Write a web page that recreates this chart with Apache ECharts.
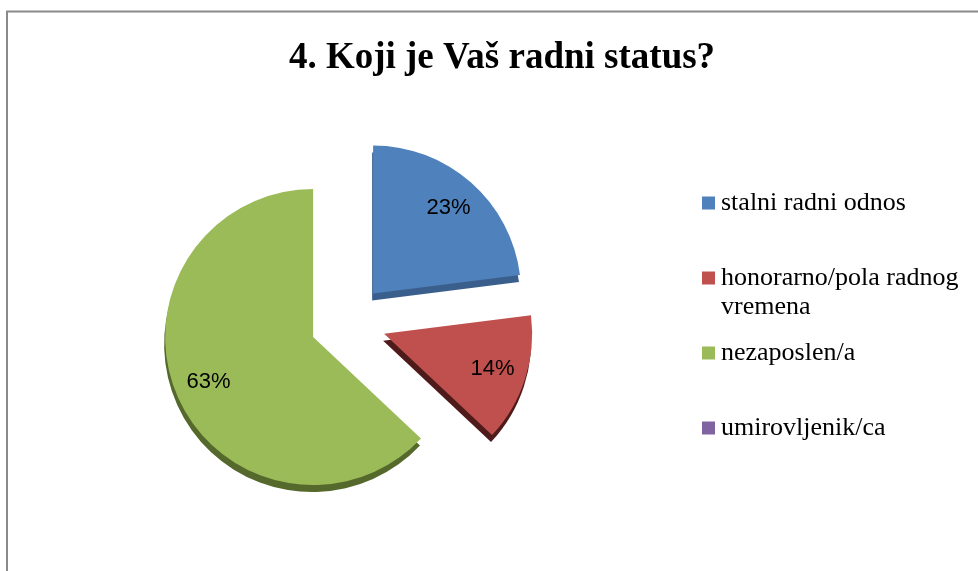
<!DOCTYPE html>
<html>
<head>
<meta charset="utf-8">
<script src="https://cdn.jsdelivr.net/npm/echarts@6/dist/echarts.min.js"></script>
<style>
  html, body { margin: 0; padding: 0; background: #fff; }
  #chart { width: 978px; height: 571px; }
</style>
</head>
<body>
<div id="chart"></div>
<script>
(function () {

    // podaci
    var categories = ['stalni radni odnos', 'honorarno/pola radnog vremena', 'nezaposlen/a', 'umirovljenik/ca'];
    var percents = [23, 14, 63, 0];
    var colors = ['#4F81BD', '#C0504D', '#9BBB59', '#8064A2'];
    var rimColors = ['#3A5F8C', '#4E1B1A', '#55692C', '#5C4776'];

    var serif = '"Liberation Serif", "DejaVu Serif", serif';

    function each(arr, fn) {
        for (var i = 0; i < arr.length; i++) fn(i, arr[i]);
    }

    var pieData = [], labelData = [], legendData = [];
    each(categories, function (i, name) {
        pieData.push({
            name: name,
            value: percents[i],
            selected: true,
            itemStyle: {
                color: colors[i],
                shadowColor: rimColors[i],
                shadowOffsetY: 7,
                shadowOffsetX: -1,
                shadowBlur: 0
            }
        });
        labelData.push({ name: name, value: percents[i], selected: true });
        legendData.push({ name: name, itemStyle: { color: colors[i] } });
    });

    var option = {
        animation: false,
        title: [{
            text: '4. Koji je Vaš radni status?',
            left: 497,
            top: 35,
            textAlign: 'center',
            textStyle: { fontFamily: serif, fontWeight: 'bold', fontSize: 37, color: '#000' }
        }, {
            // drugi red legende
            text: 'vremena',
            left: 721,
            top: 294,
            padding: 0,
            textStyle: { fontFamily: serif, fontWeight: 'normal', fontSize: 26, color: '#000' }
        }],
        legend: {
            orient: 'vertical',
            left: 702,
            top: 190,
            padding: 0,
            itemWidth: 13,
            itemHeight: 13,
            itemGap: 49,
            selectedMode: false,
            data: legendData,
            icon: 'rect',
            formatter: function (name) {
                return name === 'honorarno/pola radnog vremena' ? 'honorarno/pola radnog' : name;
            },
            textStyle: { fontFamily: serif, fontSize: 26, color: '#000', lineHeight: 26, padding: [0, 0, 0, 1] }
        },
        graphic: [{
            type: 'polyline',
            silent: true,
            shape: { points: [[7, 600], [7, 11.5], [1000, 11.5]] },
            style: { stroke: '#8A8A8A', lineWidth: 2, fill: null }
        }],
        series: [{
            type: 'pie',
            center: [348, 322],
            radius: [0, 148],
            startAngle: 90,
            clockwise: true,
            selectedMode: 'multiple',
            selectedOffset: 38,
            silent: true,
            label: { show: false },
            labelLine: { show: false },
            emphasis: { disabled: true },
            data: pieData
        }, {
            // samo oznake postotaka
            type: 'pie',
            center: [348, 322],
            radius: [74, 148],
            startAngle: 90,
            clockwise: true,
            selectedMode: 'multiple',
            selectedOffset: 38,
            silent: true,
            itemStyle: { color: 'rgba(0,0,0,0)' },
            emphasis: { disabled: true },
            label: {
                show: true,
                position: 'inside',
                fontFamily: '"Liberation Sans", Arial, sans-serif',
                fontSize: 22,
                color: '#000',
                formatter: function (p) {
                    return p.value ? p.value + '%' : '';
                }
            },
            labelLine: { show: false },
            data: labelData
        }]
    };

    var chart = echarts.init(document.getElementById('chart'));
    chart.setOption(option);
})();
</script>
</body>
</html>
